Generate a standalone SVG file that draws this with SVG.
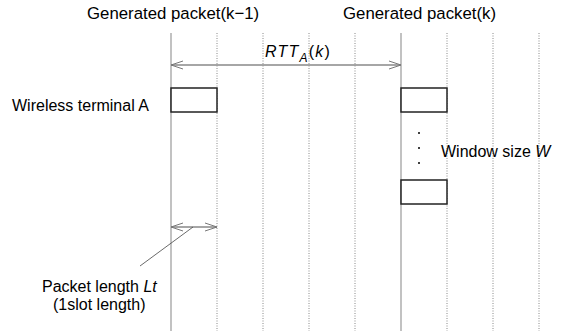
<svg xmlns="http://www.w3.org/2000/svg" width="565" height="331" viewBox="0 0 565 331">
<style>
text{font-family:"Liberation Sans",Arial,sans-serif;font-size:16px;fill:#000}
.big{font-size:16.8px}
.it{font-style:italic}
.grid{stroke:#888;stroke-width:1;stroke-dasharray:1 1.5}
.solid{stroke:#999;stroke-width:1.2}
.arr{stroke:#888;stroke-width:1.3;fill:none}
.box{fill:#fff;stroke:#222;stroke-width:1.5}
</style>
<defs>
<marker id="open" viewBox="0 0 12 10" refX="12" refY="5" markerWidth="12" markerHeight="10" markerUnits="userSpaceOnUse" orient="auto-start-reverse">
<path d="M0,1 L12,5 L0,9" fill="none" stroke="#777" stroke-width="1"/>
</marker>
</defs>
<rect width="565" height="331" fill="#fff"/>
<g id="grid">
<line class="solid" x1="171" y1="33" x2="171" y2="331"/>
<line class="grid" x1="217" y1="33" x2="217" y2="331"/>
<line class="grid" x1="263" y1="33" x2="263" y2="331"/>
<line class="grid" x1="309" y1="33" x2="309" y2="331"/>
<line class="grid" x1="355" y1="33" x2="355" y2="331"/>
<line class="solid" x1="401" y1="33" x2="401" y2="331"/>
<line class="grid" x1="447" y1="33" x2="447" y2="331"/>
<line class="grid" x1="493" y1="33" x2="493" y2="331"/>
<line class="grid" x1="539" y1="33" x2="539" y2="331"/>
</g>
<g id="labels">
<text class="big" x="87" y="19">Generated packet(k−1)</text>
<text class="big" x="343" y="19">Generated packet(k)</text>
<text x="12" y="111" font-size="16.6">Wireless terminal A</text>
<text x="441" y="157">Window size <tspan class="it">W</tspan></text>
<text x="42" y="292">Packet length <tspan class="it">Lt</tspan></text>
<text x="53" y="310">(1slot length)</text>
<text x="265" y="57" font-size="18" letter-spacing="1.2"><tspan class="it">RTT</tspan><tspan class="it" font-size="12" dy="5">A</tspan><tspan dy="-5">(</tspan><tspan class="it">k</tspan>)</text>
</g>
<g id="connectors">
<line class="arr" x1="171" y1="65" x2="401" y2="65" marker-start="url(#open)" marker-end="url(#open)"/>
<line class="arr" x1="171" y1="227" x2="217" y2="227" marker-start="url(#open)" marker-end="url(#open)"/>
<line x1="193" y1="227" x2="140" y2="266" stroke="#444" stroke-width="0.8"/>
</g>
<g id="packet1"><rect class="box" x="171" y="88" width="46" height="24"/></g>
<g id="packet2"><rect class="box" x="401" y="88" width="46" height="24"/></g>
<g id="packet3"><rect class="box" x="401" y="180" width="46" height="24"/></g>
<g id="dots" fill="#000">
<circle cx="419" cy="133" r="1"/>
<circle cx="419" cy="148" r="1"/>
<circle cx="419" cy="163" r="1"/>
</g>
</svg>
